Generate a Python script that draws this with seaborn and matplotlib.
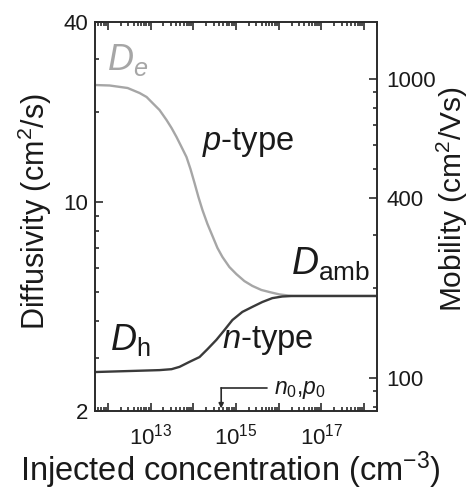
import numpy as np
import pandas as pd
import matplotlib
matplotlib.use("Agg")
import matplotlib.pyplot as plt
import seaborn as sns
from matplotlib.ticker import FixedLocator, LogLocator, NullFormatter, FuncFormatter

# ---------------- data ----------------
de_conc = [5e11, 1.10e12, 2.90e12, 5.53e12, 8.07e12, 1.11e13, 1.62e13, 2.36e13,
           3.10e13, 4.05e13, 5.30e13, 6.93e13, 8.60e13, 1.07e14, 1.32e14, 1.64e14,
           2.15e14, 2.81e14, 3.68e14, 4.81e14, 7.01e14, 1.02e15, 1.57e15, 2.42e15,
           3.92e15, 6.03e15, 1.03e16, 2.08e16, 2e18]
de_diff = [24.62, 24.53, 24.06, 23.15, 22.45, 21.44, 20.31, 18.81,
           17.68, 16.50, 15.28, 14.14, 12.89, 11.57, 10.39, 9.40,
           8.44, 7.70, 7.02, 6.55, 6.06, 5.74, 5.44, 5.24,
           5.08, 5.00, 4.91, 4.85, 4.85]

dh_conc = [5e11, 2.90e12, 1.62e13, 3.10e13, 4.77e13, 8.15e13, 1.40e14, 2.15e14,
           3.48e14, 5.36e14, 8.24e14, 1.41e15, 2.42e15, 4.14e15, 7.08e15, 1.21e16,
           2.08e16, 2e18]
dh_diff = [2.70, 2.72, 2.74, 2.76, 2.81, 2.92, 3.03, 3.22,
           3.46, 3.73, 4.03, 4.29, 4.46, 4.63, 4.77, 4.83,
           4.85, 4.85]

doping_level = 4.5e14          # n0, p0 marker position
thermal_voltage = 0.02585      # kT/q (V) : mobility = D / (kT/q)

x_major = [1e12, 1e13, 1e14, 1e15, 1e16, 1e17, 1e18]
x_labelled = [13, 15, 17]
left_ticks = [2, 10, 40]
right_ticks = [100, 400, 1000]

# ---------------- style ----------------
sns.set_style("ticks")
plt.rcParams["font.family"] = ["Liberation Sans", "DejaVu Sans"]
plt.rcParams["mathtext.fontset"] = "custom"
plt.rcParams["mathtext.rm"] = "Liberation Sans"
plt.rcParams["mathtext.it"] = "Liberation Sans:italic"
plt.rcParams["mathtext.bf"] = "Liberation Sans:bold"

frame = "#2b2b2b"
txt = "#1a1a1a"
gray = "#a6a6a6"
dark = "#3a3a3a"

fig = plt.figure(figsize=(4.73, 4.96), dpi=100)
ax = fig.add_axes([95 / 473, 1 - 411 / 496, 282 / 473, 389 / 496])

df_e = pd.DataFrame({"conc": de_conc, "D": de_diff})
df_h = pd.DataFrame({"conc": dh_conc, "D": dh_diff})
sns.lineplot(data=df_e, x="conc", y="D", ax=ax, color=gray, lw=1.7)
sns.lineplot(data=df_h, x="conc", y="D", ax=ax, color=dark, lw=1.7)

ax.set_xscale("log")
ax.set_yscale("log")
ax.set_xlim(5e11, 2e18)
ax.set_ylim(2, 40)

ax.xaxis.set_major_locator(FixedLocator(x_major))
ax.xaxis.set_minor_locator(LogLocator(base=10, subs=np.arange(2, 10), numticks=50))
ax.xaxis.set_minor_formatter(NullFormatter())
ax.xaxis.set_major_formatter(FuncFormatter(
    lambda v, p: (r"$10^{%d}$" % round(np.log10(v))) if round(np.log10(v)) in x_labelled else ""))

ax.yaxis.set_major_locator(FixedLocator(left_ticks))
ax.yaxis.set_major_formatter(FuncFormatter(lambda v, p: "%d" % v))
ax.yaxis.set_minor_locator(LogLocator(base=10, subs=np.arange(2, 10), numticks=50))
ax.yaxis.set_minor_formatter(NullFormatter())

ax.tick_params(which="both", direction="in", top=True, right=False,
               color=frame, width=1.2, labelcolor=txt, labelsize=16)
ax.tick_params(which="major", length=6)
ax.tick_params(which="minor", length=3)
ax.tick_params(axis="x", which="major", pad=9)
ax.tick_params(axis="y", which="major", pad=5)

for s in ax.spines.values():
    s.set_linewidth(1.4)
    s.set_color(frame)

ax.set_xlabel("Injected concentration (cm$^{-3}$)", fontsize=23.5, color=txt)
ax.set_ylabel("Diffusivity (cm$^2$/s)", fontsize=22, color=txt)
ax.xaxis.set_label_coords(0.48, -0.10)
ax.yaxis.set_label_coords(-0.145, 0.514)

# right mobility axis
ax2 = ax.twinx()
ax2.set_yscale("log")
ax2.set_ylim(2 / thermal_voltage, 40 / thermal_voltage)
ax2.yaxis.set_major_locator(FixedLocator(right_ticks))
ax2.yaxis.set_major_formatter(FuncFormatter(lambda v, p: "%d" % v))
ax2.yaxis.set_minor_locator(LogLocator(base=10, subs=np.arange(2, 10), numticks=50))
ax2.yaxis.set_minor_formatter(NullFormatter())
ax2.tick_params(which="both", direction="in", right=True, left=False,
                color=frame, width=1.2, labelcolor=txt, labelsize=16)
ax2.tick_params(which="major", length=6, pad=7)
ax2.tick_params(which="minor", length=3)
for s in ax2.spines.values():
    s.set_visible(False)
ax2.set_ylabel("Mobility (cm$^2$/Vs)", fontsize=21.5, color=txt)
ax2.yaxis.set_label_coords(1.205, 0.545)

# annotations
ax.text(9.4e11, 27.6, r"$D_e$", color=gray, fontsize=26, va="baseline", ha="left")
ax.text(10**14.21, 14.9, r"$p$-type", color=txt, fontsize=23.5, va="baseline", ha="left")
ax.text(10**16.29, 5.7, r"$D_{\mathrm{amb}}$", color=txt, fontsize=27, va="baseline", ha="left")
ax.text(10**12.04, 3.2, r"$D_{\mathrm{h}}$", color=txt, fontsize=26, va="baseline", ha="left")
ax.text(10**14.68, 3.25, r"$n$-type", color=txt, fontsize=23.5, va="baseline", ha="left")

bracket_y = 2.39
ax.plot([doping_level, 10**15.73], [bracket_y, bracket_y], color=frame, lw=1.2)
ax.annotate("", xy=(doping_level, 2.04), xytext=(doping_level, bracket_y),
            arrowprops=dict(arrowstyle="-|>", color=frame, lw=1.2,
                            mutation_scale=7, shrinkA=0, shrinkB=0))
ax.text(10**15.90, 2.28, r"$n_0$,$p_0$", color=txt, fontsize=16.5, va="baseline", ha="left")

fig.savefig("out.png", dpi=100)
